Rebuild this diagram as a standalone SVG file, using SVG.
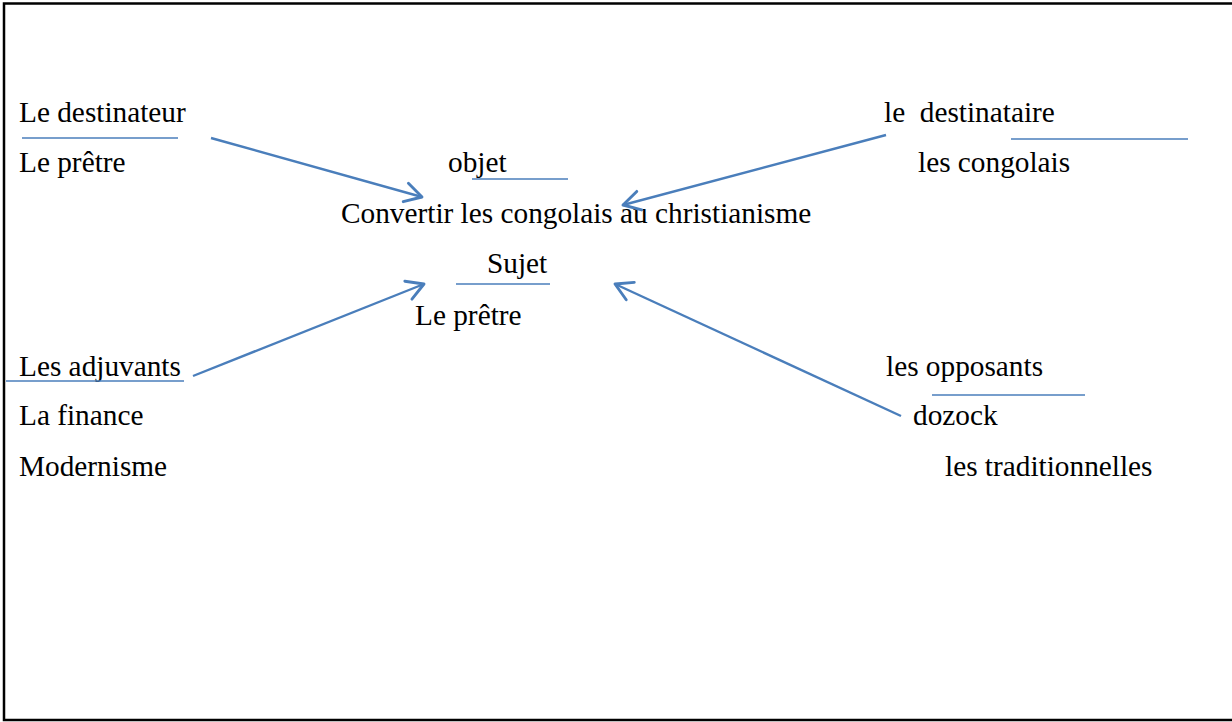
<svg xmlns="http://www.w3.org/2000/svg" width="1232" height="722" viewBox="0 0 1232 722">
<style>
text{font-family:"Liberation Serif","Times New Roman",serif;font-size:29.3px;fill:#000}
.ul{stroke:#4a7ebb;stroke-width:1.6;fill:none}
.ar{stroke:#4a7ebb;stroke-width:2.4;fill:none;marker-end:url(#arr)}
</style>
<defs>
<marker id="arr" markerUnits="userSpaceOnUse" markerWidth="24" markerHeight="24" viewBox="-16 -10 20 20" refX="0" refY="0" orient="auto">
<path d="M-14,-8 L0,0 L-14,8" fill="none" stroke="#4a7ebb" stroke-width="2.4" stroke-linecap="round" stroke-linejoin="round"/>
</marker>
</defs>
<rect width="1232" height="722" fill="#fff"/>
<path d="M1232,3.5 H4 V720 H1232" fill="none" stroke="#000" stroke-width="2.5"/>
<g id="destinateur">
<text x="19" y="122">Le destinateur</text>
<line class="ul" x1="22" y1="138" x2="178" y2="138"/>
<text x="19" y="172">Le prêtre</text>
</g>
<g id="objet">
<text x="448" y="172">objet</text>
<line class="ul" x1="472" y1="179" x2="568" y2="179"/>
<text x="341" y="223">Convertir les congolais au christianisme</text>
</g>
<g id="destinataire">
<text x="884" y="122" xml:space="preserve">le  destinataire</text>
<line class="ul" x1="1011" y1="139" x2="1188" y2="139"/>
<text x="918" y="172">les congolais</text>
</g>
<g id="sujet">
<text x="487" y="273">Sujet</text>
<line class="ul" x1="456" y1="284" x2="550" y2="284"/>
<text x="415" y="325">Le prêtre</text>
</g>
<g id="adjuvants">
<text x="19" y="376">Les adjuvants</text>
<line class="ul" x1="6" y1="381" x2="184" y2="381"/>
<text x="19" y="425">La finance</text>
<text x="19" y="476">Modernisme</text>
</g>
<g id="opposants">
<text x="886" y="376">les opposants</text>
<line class="ul" x1="932" y1="395" x2="1085" y2="395"/>
<text x="913" y="425">dozock</text>
<text x="945" y="476">les traditionnelles</text>
</g>
<g id="connectors">
<line class="ar" x1="211" y1="138" x2="422" y2="197"/>
<line class="ar" x1="886" y1="135" x2="623" y2="205"/>
<line class="ar" x1="193" y1="376" x2="424" y2="284"/>
<line class="ar" x1="901" y1="416" x2="615" y2="284"/>
</g>
</svg>
